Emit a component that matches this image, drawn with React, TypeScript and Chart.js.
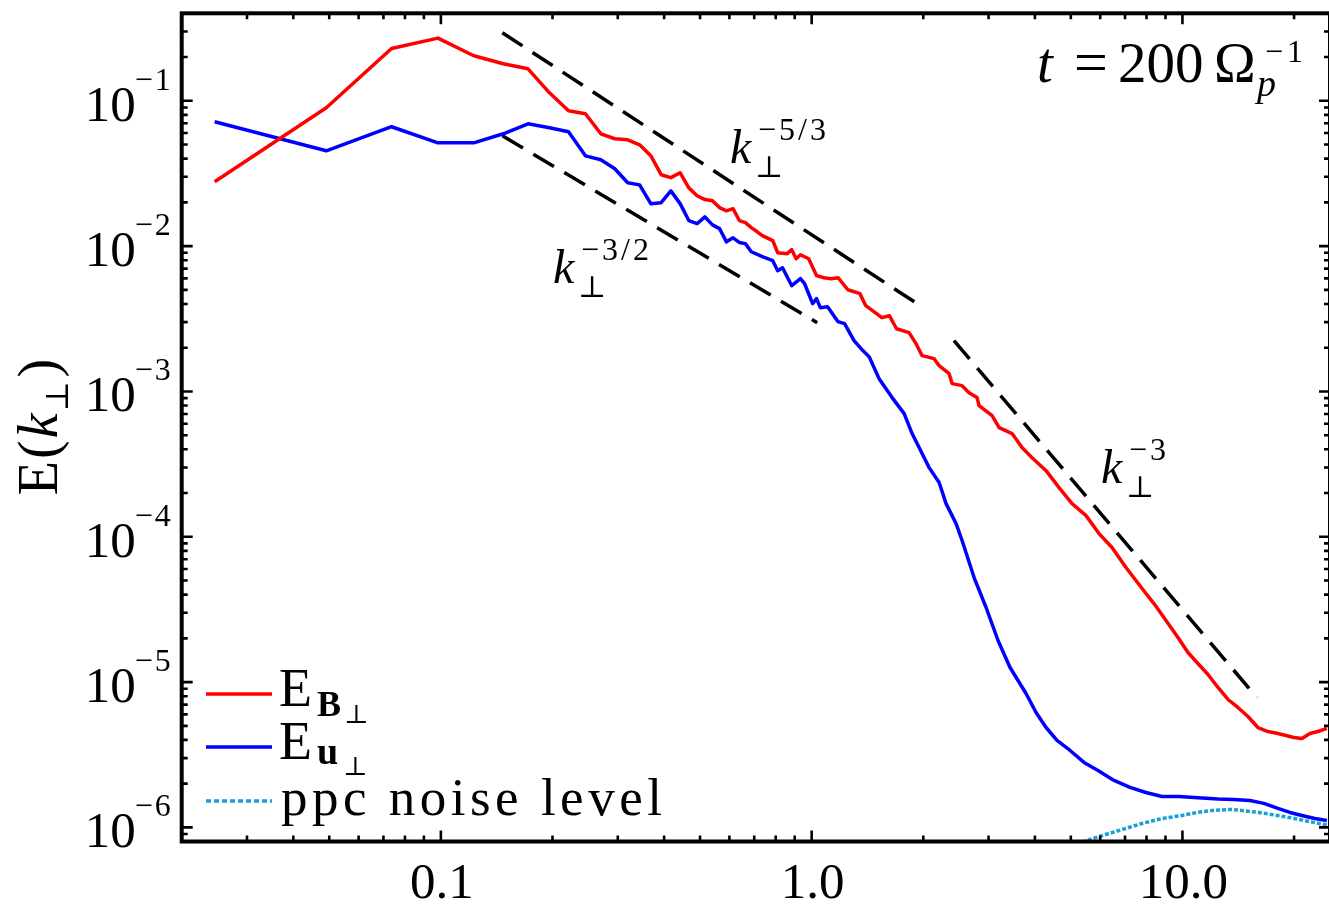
import React, { useEffect, useRef } from "react";
import { Chart, registerables } from "chart.js";

Chart.register(...registerables);

const X_MIN = 0.02;
const X_MAX = 25;
const Y_MIN = 8e-7;
const Y_MAX = 0.4;

// Magnetic spectrum E_B
const kB = [
  0.02454, 0.04909, 0.07363, 0.09817, 0.1227, 0.1473, 0.1718, 0.1963, 0.2209, 0.2454,
  0.27, 0.2945, 0.3191, 0.3436, 0.3682, 0.3927, 0.4172, 0.4418, 0.4663, 0.4909,
  0.5154, 0.54, 0.5645, 0.589, 0.6136, 0.6381, 0.6627, 0.6872, 0.7117, 0.7363,
  0.7854, 0.8099, 0.859, 0.8836, 0.9081, 0.9327, 0.9817, 1.031, 1.08, 1.129,
  1.178, 1.252, 1.35, 1.399, 1.497, 1.546, 1.62, 1.694,
  1.831, 1.912, 1.985, 2.139, 2.207, 2.348, 2.392, 2.545, 2.658, 2.793,
  2.828, 3.066, 3.203, 3.471, 3.693, 3.93, 4.287, 4.647, 5.038, 5.495,
  5.956, 6.457, 7.041, 7.972, 8.378, 8.913, 9.725, 10.35, 11.01, 11.72,
  12.47, 13.27, 14.11, 15.02, 15.98, 17.0, 18.09, 19.01, 19.98, 21.0,
  22.07, 23.19, 24.52,
];
const eB = [
  0.0277, 0.0895, 0.229, 0.27, 0.204, 0.18, 0.166, 0.1135, 0.0853, 0.0814,
  0.0593, 0.0548, 0.0539, 0.0498, 0.0419, 0.031, 0.0296, 0.032, 0.0252, 0.0222,
  0.0209, 0.0205, 0.0184, 0.0175, 0.0181, 0.015, 0.0145, 0.0134, 0.0126, 0.0118,
  0.0109, 0.009, 0.00887, 0.00945, 0.00819, 0.00872, 0.00819, 0.00626, 0.00606, 0.00597,
  0.00606, 0.00501, 0.00471, 0.00389, 0.00343, 0.00322, 0.00332, 0.0027,
  0.002537, 0.002132, 0.001763, 0.001681, 0.001505, 0.001326, 0.001132, 0.001096, 0.000981, 0.000907,
  0.000799, 0.000682, 0.000564, 0.000513, 0.000411, 0.00035, 0.000285, 0.000218, 0.000169, 0.0001398,
  0.0001052, 8.43e-5, 6.14e-5, 4.07e-5, 3.47e-5, 2.78e-5, 2.026e-5, 1.598e-5, 1.342e-5, 1.128e-5,
  9.18e-6, 7.59e-6, 6.69e-6, 5.8e-6, 4.87e-6, 4.57e-6, 4.43e-6, 4.29e-6, 4.16e-6, 4.09e-6,
  4.43e-6, 4.57e-6, 4.8e-6,
];

// Velocity spectrum E_u
const kU = [
  0.02454, 0.04909, 0.07363, 0.09817, 0.1227, 0.1473, 0.1718, 0.1963, 0.2209, 0.2454,
  0.27, 0.2945, 0.3191, 0.3436, 0.3682, 0.3927, 0.4172, 0.4418, 0.4663, 0.4909,
  0.5154, 0.54, 0.5645, 0.589, 0.6136, 0.6381, 0.6627, 0.6872, 0.7363, 0.7854,
  0.8099, 0.8345, 0.8836, 0.9327, 0.9572, 1.006, 1.031, 1.055, 1.104, 1.178,
  1.227, 1.301, 1.374,
  1.429, 1.52, 1.648, 1.776, 1.866, 1.949, 2.074, 2.207, 2.304, 2.452,
  2.545, 2.742, 2.954, 3.182, 3.428, 3.786, 4.029, 4.287, 4.589, 4.977,
  5.427, 5.919, 6.537, 7.22, 7.972, 8.806, 9.786, 10.74, 12.47, 13.76,
  15.2, 16.58, 18.09, 19.49, 21.0, 22.76, 24.52,
];
const eU = [
  0.0717, 0.0453, 0.0663, 0.0514, 0.0514, 0.0593, 0.0695, 0.0652, 0.0612, 0.0418,
  0.0393, 0.0341, 0.0273, 0.0264, 0.0196, 0.0199, 0.024, 0.0196, 0.015, 0.0143,
  0.0159, 0.014, 0.0132, 0.0107, 0.0114, 0.0106, 0.0104, 0.00915, 0.00846, 0.00794,
  0.00677, 0.0071, 0.00534, 0.00597, 0.00551, 0.00402, 0.00435, 0.00377, 0.00383, 0.00302,
  0.00293, 0.00224, 0.00191,
  0.001735, 0.001225, 0.000907, 0.000704, 0.000513, 0.000411, 0.000299, 0.000236, 0.000169, 0.0001232,
  9.42e-5, 5.24e-5, 3.26e-5, 1.933e-5, 1.26e-5, 8.35e-6, 6.18e-6, 4.87e-6, 3.97e-6, 3.385e-6,
  2.8e-6, 2.466e-6, 2.104e-6, 1.884e-6, 1.74e-6, 1.633e-6, 1.633e-6, 1.608e-6, 1.57e-6, 1.558e-6,
  1.533e-6, 1.463e-6, 1.351e-6, 1.268e-6, 1.209e-6, 1.153e-6, 1.117e-6,
];

// ppc noise level
const kNoise = [5.2, 5.49, 6.34, 7.0, 7.78, 8.8, 9.97, 11.0, 12.0, 13.6, 16.08, 19.37, 23.33, 25.0];
const eNoise = [7.5e-7, 8.1e-7, 9.09e-7, 9.8e-7, 1.065e-6, 1.15e-6, 1.209e-6, 1.27e-6, 1.309e-6, 1.33e-6, 1.268e-6, 1.172e-6, 1.065e-6, 1.03e-6];

// Reference power laws
const kSlope53 = [0.1465, 1.925];
const eSlope53 = [0.2938, 0.00402];
const kSlope32 = [0.1465, 1.035];
const eSlope32 = [0.0574, 0.00297];
const kSlope3 = [2.42, 15.88];
const eSlope3 = [0.002236, 7.83e-6];

const xTickValues = [0.1, 1, 10];
const xTickLabels = ["0.1", "1.0", "10.0"];
const yTickExponents = [-1, -2, -3, -4, -5, -6];

const SERIF = '"Liberation Serif", "DejaVu Serif", serif';
const SYM = '"DejaVu Serif", "Liberation Serif", serif';

const pts = (k: number[], e: number[]) => k.map((v, i) => ({ x: v, y: e[i] }));

function text(
  ctx: CanvasRenderingContext2D,
  s: string,
  x: number,
  y: number,
  font: string,
  align: CanvasTextAlign = "left",
  spacing = 0
) {
  ctx.font = font;
  ctx.textAlign = align;
  ctx.textBaseline = "alphabetic";
  (ctx as any).letterSpacing = spacing + "px";
  ctx.fillText(s, x, y);
  (ctx as any).letterSpacing = "0px";
}

const framePlugin = {
  id: "idlFrame",
  afterDraw(chart: any) {
    const { ctx, chartArea: a } = chart;
    const xs = chart.scales.x;
    const ys = chart.scales.y;
    ctx.save();
    ctx.strokeStyle = "#000";
    ctx.fillStyle = "#000";
    ctx.lineWidth = 2.6;
    ctx.beginPath();
    for (let d = -2; d <= 1; d++) {
      for (let m = 1; m <= 9; m++) {
        const v = m * Math.pow(10, d);
        if (v < X_MIN * 0.999 || v > X_MAX) continue;
        const px = xs.getPixelForValue(v);
        const len = m === 1 ? 11 : 6;
        ctx.moveTo(px, a.bottom);
        ctx.lineTo(px, a.bottom - len);
        ctx.moveTo(px, a.top);
        ctx.lineTo(px, a.top + len);
      }
    }
    for (let d = -7; d <= -1; d++) {
      for (let m = 1; m <= 9; m++) {
        const v = m * Math.pow(10, d);
        if (v < Y_MIN * 0.999 || v > Y_MAX) continue;
        const py = ys.getPixelForValue(v);
        const len = m === 1 ? 11 : 6;
        ctx.moveTo(a.left, py);
        ctx.lineTo(a.left + len, py);
        ctx.moveTo(a.right, py);
        ctx.lineTo(a.right - len, py);
      }
    }
    ctx.stroke();
    ctx.lineWidth = 4;
    ctx.strokeRect(a.left, a.top, a.right - a.left, a.bottom - a.top);

    // y tick labels 10^n
    yTickExponents.forEach((e) => {
      const py = ys.getPixelForValue(Math.pow(10, e));
      text(ctx, "10", a.left - 46, py + 20, `51px ${SERIF}`, "right");
      text(ctx, "\u2212" + Math.abs(e), a.left - 47, py - 11, `32px ${SERIF}`, "left", 2);
    });
    // x tick labels
    xTickValues.forEach((v, i) => {
      const px = xs.getPixelForValue(v);
      text(ctx, xTickLabels[i], px + 1, a.bottom + 56, `51px ${SERIF}`, "center");
    });

    // y title E(k_perp)
    ctx.save();
    ctx.translate(57, 427);
    ctx.rotate(-Math.PI / 2);
    ctx.font = `56px ${SERIF}`;
    const w1 = ctx.measureText("E(").width;
    ctx.font = `italic 56px ${SERIF}`;
    const w2 = ctx.measureText("k").width;
    ctx.font = `32px ${SYM}`;
    const w3 = ctx.measureText("\u22A5").width;
    ctx.font = `56px ${SERIF}`;
    const w4 = ctx.measureText(")").width;
    const total = w1 + w2 + w3 + w4 + 10;
    let cx = -total / 2;
    text(ctx, "E(", cx, 0, `56px ${SERIF}`, "left", 2);
    cx += w1 + 4;
    text(ctx, "k", cx, 0, `italic 56px ${SERIF}`);
    cx += w2 + 2;
    text(ctx, "\u22A5", cx, 11, `32px ${SYM}`);
    cx += w3 + 4;
    text(ctx, ")", cx, 0, `56px ${SERIF}`);
    ctx.restore();

    // Title t = 200 Omega_p^-1
    text(ctx, "t", 1037, 82, `italic 57px ${SERIF}`);
    text(ctx, "=", 1074, 82, `60px ${SERIF}`);
    text(ctx, "200", 1118, 82, `57px ${SERIF}`);
    text(ctx, "\u03A9", 1214, 82, `56px ${SERIF}`);
    text(ctx, "p", 1257, 96, `italic 38px ${SERIF}`);
    text(ctx, "\u22121", 1265, 62, `32px ${SERIF}`, "left", 4);

    // power law annotations
    const kLabel = (x: number, y: number, exp: string) => {
      text(ctx, "k", x, y, `italic 48px ${SERIF}`);
      text(ctx, exp, x + 28, y - 23, `32px ${SERIF}`, "left", 3);
      text(ctx, "\u22A5", x + 25, y + 14, `30px ${SYM}`);
    };
    kLabel(730, 163, "\u22125/3");
    kLabel(553, 283, "\u22123/2");
    kLabel(1101, 483, "\u22123");

    // legend
    ctx.lineWidth = 3.5;
    ctx.strokeStyle = "#ff0000";
    ctx.beginPath();
    ctx.moveTo(206, 694);
    ctx.lineTo(272, 694);
    ctx.stroke();
    ctx.strokeStyle = "#0000ff";
    ctx.beginPath();
    ctx.moveTo(206, 747);
    ctx.lineTo(272, 747);
    ctx.stroke();
    ctx.strokeStyle = "#1aa0d6";
    ctx.setLineDash([5, 3]);
    ctx.beginPath();
    ctx.moveTo(206, 801);
    ctx.lineTo(272, 801);
    ctx.stroke();
    ctx.setLineDash([]);
    ctx.fillStyle = "#000";
    text(ctx, "E", 279, 706, `54px ${SERIF}`);
    text(ctx, "B", 317, 716, `bold 36px ${SERIF}`);
    text(ctx, "\u22A5", 344, 723, `26px ${SYM}`);
    text(ctx, "E", 279, 759, `54px ${SERIF}`);
    text(ctx, "u", 317, 764, `bold 38px ${SERIF}`);
    text(ctx, "\u22A5", 343, 775, `26px ${SYM}`);
    text(ctx, "ppc noise level", 281, 815, `53px ${SERIF}`, "left", 4.5);
    ctx.restore();
  },
};

export default function App() {
  const canvasRef = useRef<HTMLCanvasElement | null>(null);

  useEffect(() => {
    document.body.style.overflow = "hidden";
    const canvas = canvasRef.current;
    if (!canvas) return;
    const dashed = (k: number[], e: number[]) => ({
      data: pts(k, e),
      borderColor: "#000",
      borderWidth: 3.5,
      borderDash: [24, 12],
      pointRadius: 0,
      tension: 0,
    });
    const chart = new Chart(canvas, {
      type: "line",
      data: {
        datasets: [
          {
            label: "E_B",
            data: pts(kB, eB),
            borderColor: "#ff0000",
            borderWidth: 3.5,
            pointRadius: 0,
            tension: 0,
            borderJoinStyle: "round",
          },
          {
            label: "E_u",
            data: pts(kU, eU),
            borderColor: "#0000ff",
            borderWidth: 3.5,
            pointRadius: 0,
            tension: 0,
            borderJoinStyle: "round",
          },
          {
            label: "ppc noise level",
            data: pts(kNoise, eNoise),
            borderColor: "#1aa0d6",
            borderWidth: 3.5,
            borderDash: [4, 2],
            pointRadius: 0,
            tension: 0,
          },
          { label: "k-5/3", ...dashed(kSlope53, eSlope53) },
          { label: "k-3/2", ...dashed(kSlope32, eSlope32) },
          { label: "k-3", ...dashed(kSlope3, eSlope3) },
        ] as any,
      },
      options: {
        animation: false,
        responsive: true,
        maintainAspectRatio: false,
        devicePixelRatio: 1,
        layout: { padding: { left: 181.7, top: 13.3, right: 0, bottom: 63.5 } },
        plugins: { legend: { display: false }, tooltip: { enabled: false } },
        scales: {
          x: { type: "logarithmic", min: X_MIN, max: X_MAX, display: false },
          y: { type: "logarithmic", min: Y_MIN, max: Y_MAX, display: false },
        },
      },
      plugins: [framePlugin],
    });
    return () => chart.destroy();
  }, []);

  return (
    <div
      style={{
        position: "fixed",
        left: 0,
        top: 0,
        width: 1330,
        height: 905,
        background: "#fff",
      }}
    >
      <canvas ref={canvasRef} />
    </div>
  );
}
